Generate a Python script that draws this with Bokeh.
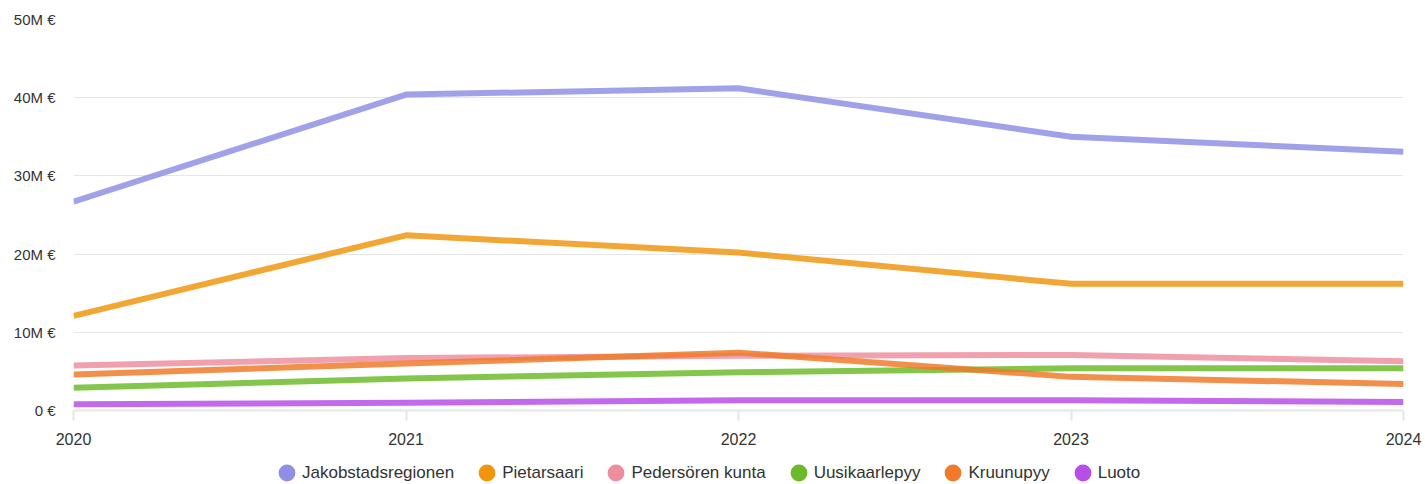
from bokeh.plotting import figure
from bokeh.layouts import column
from bokeh.models import Legend, LegendItem, ColumnDataSource, FixedTicker, CustomJSTickFormatter, Range1d
from bokeh.embed import file_html
from bokeh.resources import INLINE

years = [2020, 2021, 2022, 2023, 2024]
series_names = ["Jakobstadsregionen", "Pietarsaari", "Pedersören kunta", "Uusikaarlepyy", "Kruunupyy", "Luoto"]
jakobstadsregionen = [26.7, 40.4, 41.2, 35.0, 33.1]
pietarsaari = [12.1, 22.4, 20.2, 16.2, 16.2]
pedersoren_kunta = [5.75, 6.7, 7.0, 7.1, 6.3]
uusikaarlepyy = [2.9, 4.1, 4.9, 5.4, 5.4]
kruunupyy = [4.6, 6.0, 7.4, 4.3, 3.4]
luoto = [0.8, 1.0, 1.3, 1.3, 1.1]
y_ticks = [0, 10, 20, 30, 40, 50]

values = [jakobstadsregionen, pietarsaari, pedersoren_kunta, uusikaarlepyy, kruunupyy, luoto]
colors = ["#8f8fe6", "#f0960e", "#ee8e9d", "#6cba2a", "#f07a28", "#b84ee8"]

FONT = "Liberation Sans"
W = 1424

p = figure(width=W, height=462, output_backend="svg", toolbar_location=None,
           x_range=Range1d(2020, 2024), y_range=Range1d(0, 50),
           min_border_left=73, min_border_right=21, min_border_top=19, min_border_bottom=52)
p.outline_line_color = None

# legend strip (own small figure, no axes)
lg = figure(width=W, height=21, output_backend="svg", toolbar_location=None,
            x_range=Range1d(0, 1), y_range=Range1d(0, 1),
            x_axis_location=None, y_axis_location=None,
            min_border=0, min_border_left=0, min_border_right=0, min_border_top=0, min_border_bottom=0)
lg.outline_line_color = None
lg.xgrid.grid_line_color = None
lg.ygrid.grid_line_color = None

items = []
for name, vals, col in zip(series_names, values, colors):
    src = ColumnDataSource(dict(x=years, y=vals))
    p.line("x", "y", source=src, line_color=col, line_width=6, line_alpha=0.84, line_join="round")
    key = lg.ellipse("x", "y", source=src, width=1, height=1,
                     width_units="screen", height_units="screen",
                     fill_color=col, line_color=None)
    items.append(LegendItem(label=name, renderers=[key]))

# y axis
p.yaxis.ticker = FixedTicker(ticks=y_ticks)
p.yaxis.formatter = CustomJSTickFormatter(code="return tick == 0 ? '0 €' : tick + 'M €';")
p.yaxis.axis_line_color = None
p.yaxis.major_tick_line_color = None
p.yaxis.minor_tick_line_color = None
p.yaxis.major_label_text_font = FONT
p.yaxis.major_label_text_font_size = "15px"
p.yaxis.major_label_text_color = "#333333"
p.yaxis.major_label_standoff = 12
p.ygrid.grid_line_color = "#e6e6e6"
p.ygrid.ticker = FixedTicker(ticks=y_ticks)

# x axis
p.xaxis.ticker = FixedTicker(ticks=years)
p.xaxis.axis_line_color = "#e6e6e6"
p.xaxis.axis_line_width = 2
p.xaxis.major_tick_line_color = "#e6e6e6"
p.xaxis.major_tick_line_width = 2
p.xaxis.major_tick_in = 0
p.xaxis.major_tick_out = 10
p.xaxis.minor_tick_line_color = None
p.xaxis.major_label_text_font = FONT
p.xaxis.major_label_text_font_size = "16px"
p.xaxis.major_label_text_color = "#333333"
p.xaxis.major_label_standoff = 12
p.xgrid.grid_line_color = None

legend = Legend(items=items, orientation="horizontal", location=(203, 0),
                border_line_color=None, background_fill_alpha=0,
                label_text_font=FONT, label_text_font_size="17px", label_text_color="#333333",
                glyph_width=21, glyph_height=21, label_standoff=5, spacing=22,
                padding=0, margin=0)
lg.add_layout(legend, "center")

layout = column(p, lg, spacing=0)
open("out.html", "w").write(file_html(layout, INLINE))
